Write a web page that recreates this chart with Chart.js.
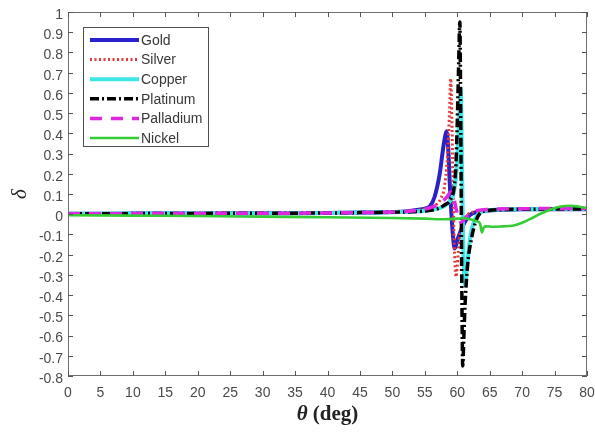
<!DOCTYPE html>
<html>
<head>
<meta charset="utf-8">
<script src="https://cdn.jsdelivr.net/npm/chart.js@4.4.1/dist/chart.umd.min.js"></script>
<style>
  html, body { margin: 0; padding: 0; background: #ffffff; }
  #wrap { width: 595px; height: 432px; }
</style>
</head>
<body>
<div id="wrap"><canvas id="c" width="595" height="432"></canvas></div>
<script>
// Phase-derivative curves (delta) versus incidence angle theta, one pair of arrays per metal.
const seriesNames = ['Gold', 'Silver', 'Copper', 'Platinum', 'Palladium', 'Nickel'];

const goldTheta = [0, 10, 20, 30, 40, 45, 50, 52, 54, 55, 55.8, 56.5, 57.3, 57.8, 58.1, 58.35, 58.6, 58.85, 59.1, 59.35, 59.6, 60.1, 60.9, 61.9, 63.5, 66, 70, 75, 80];
const goldDelta = [0.002, 0.003, 0.004, 0.005, 0.006, 0.008, 0.011, 0.014, 0.022, 0.028, 0.04, 0.085, 0.2, 0.32, 0.38, 0.41, 0.33, 0.15, 0.0, -0.11, -0.17, -0.12, -0.055, -0.005, 0.013, 0.021, 0.024, 0.025, 0.025];

const silverTheta = [0, 10, 20, 30, 40, 45, 50, 52, 54, 56, 57, 57.5, 58, 58.5, 58.8, 59.0, 59.2, 59.4, 59.6, 59.8, 60.0, 60.3, 60.8, 61.5, 63, 66, 70, 75, 80];
const silverDelta = [0.002, 0.003, 0.004, 0.005, 0.006, 0.008, 0.011, 0.014, 0.02, 0.035, 0.055, 0.08, 0.13, 0.29, 0.5, 0.67, 0.42, 0.05, -0.2, -0.31, -0.26, -0.13, -0.045, -0.005, 0.014, 0.021, 0.024, 0.025, 0.025];

const copperTheta = [0, 10, 20, 30, 40, 45, 50, 53, 55, 57, 58, 59, 59.5, 59.9, 60.2, 60.4, 60.55, 60.75, 60.95, 61.2, 61.5, 62, 62.6, 63.5, 65, 70, 75, 80];
const copperDelta = [0.002, 0.003, 0.004, 0.005, 0.006, 0.008, 0.01, 0.013, 0.017, 0.028, 0.04, 0.07, 0.11, 0.22, 0.4, 0.55, 0.62, 0.2, -0.2, -0.35, -0.26, -0.11, -0.035, 0.008, 0.02, 0.025, 0.026, 0.026];

const platinumTheta = [0, 10, 20, 30, 40, 45, 50, 53, 55, 57, 58, 59, 59.5, 59.8, 60.0, 60.2, 60.4, 60.55, 60.7, 60.85, 61.0, 61.2, 61.6, 62.2, 62.8, 63.5, 64.5, 67, 72, 80];
const platinumDelta = [0.002, 0.003, 0.004, 0.005, 0.006, 0.008, 0.01, 0.012, 0.016, 0.028, 0.045, 0.075, 0.13, 0.25, 0.45, 0.72, 0.95, 0.4, -0.35, -0.75, -0.62, -0.45, -0.25, -0.12, -0.04, 0.005, 0.017, 0.023, 0.025, 0.026];

const palladiumTheta = [0, 10, 20, 30, 40, 45, 50, 52, 54, 56, 57.5, 58.5, 59.0, 59.4, 59.8, 60.2, 60.6, 61.2, 62, 63, 65, 70, 75, 80];
const palladiumDelta = [0.002, 0.003, 0.004, 0.005, 0.006, 0.008, 0.011, 0.014, 0.02, 0.034, 0.058, 0.088, 0.11, 0.09, 0.03, -0.02, -0.04, -0.02, 0.005, 0.018, 0.024, 0.027, 0.028, 0.028];

const nickelTheta = [0, 10, 20, 30, 40, 50, 55, 58, 60, 61, 62, 63, 63.5, 63.8, 64.1, 64.5, 65.5, 67, 68.5, 70, 71.5, 73, 74.5, 76, 77.5, 79, 80];
const nickelDelta = [-0.005, -0.007, -0.009, -0.012, -0.015, -0.019, -0.022, -0.025, -0.022, -0.02, -0.025, -0.035, -0.045, -0.09, -0.065, -0.06, -0.062, -0.06, -0.057, -0.042, -0.02, 0.005, 0.025, 0.038, 0.042, 0.036, 0.03];

const xTickValues = [0, 5, 10, 15, 20, 25, 30, 35, 40, 45, 50, 55, 60, 65, 70, 75, 80];
const yTickValues = [1, 0.9, 0.8, 0.7, 0.6, 0.5, 0.4, 0.3, 0.2, 0.1, 0, -0.1, -0.2, -0.3, -0.4, -0.5, -0.6, -0.7, -0.8];

const toPoints = (xs, ys) => xs.map((v, i) => ({ x: v, y: ys[i] }));

// Line styles for each metal
const styles = [
  { color: '#2a22c8', width: 4,   dash: [] },
  { color: '#e03a3a', width: 3,   dash: [2, 2.5] },
  { color: '#3ee6e6', width: 4,   dash: [] },
  { color: '#000000', width: 3.5, dash: [9, 3, 2, 3] },
  { color: '#e026e0', width: 3.5, dash: [12, 9] },
  { color: '#35cc35', width: 2.6, dash: [] }
];

const seriesPoints = [
  toPoints(goldTheta, goldDelta),
  toPoints(silverTheta, silverDelta),
  toPoints(copperTheta, copperDelta),
  toPoints(platinumTheta, platinumDelta),
  toPoints(palladiumTheta, palladiumDelta),
  toPoints(nickelTheta, nickelDelta)
];

const datasets = seriesNames.map((name, i) => ({
  label: name,
  data: seriesPoints[i],
  borderColor: styles[i].color,
  backgroundColor: styles[i].color,
  borderWidth: styles[i].width,
  borderDash: styles[i].dash,
  pointRadius: 0,
  fill: false,
  cubicInterpolationMode: 'monotone',
  // later series are painted on top
  order: seriesNames.length - i
}));

const fmtY = v => {
  const r = Math.round(v * 10) / 10;
  return r === 0 ? '0' : String(r);
};

// Box frame, inward ticks, boxed legend and axis titles
const framePlugin = {
  id: 'frame',
  afterDatasetsDraw(chart) {
    const { ctx, chartArea: a, scales } = chart;
    const xs = scales.x, ys = scales.y;
    ctx.save();

    // frame
    ctx.strokeStyle = '#6e6e6e';
    ctx.lineWidth = 1;
    ctx.setLineDash([]);
    ctx.strokeRect(a.left + 0.5, a.top + 0.5, a.right - a.left - 1, a.bottom - a.top - 1);

    // inward tick marks on all four sides
    const tl = 5;
    ctx.strokeStyle = '#555555';
    ctx.beginPath();
    xTickValues.forEach(v => {
      const px = Math.round(xs.getPixelForValue(v)) + 0.5;
      ctx.moveTo(px, a.bottom); ctx.lineTo(px, a.bottom - tl);
      ctx.moveTo(px, a.top); ctx.lineTo(px, a.top + tl);
    });
    yTickValues.forEach(v => {
      const py = Math.round(ys.getPixelForValue(v)) + 0.5;
      ctx.moveTo(a.left, py); ctx.lineTo(a.left + tl, py);
      ctx.moveTo(a.right, py); ctx.lineTo(a.right - tl, py);
    });
    ctx.stroke();

    // legend
    const lx = a.left + 15, ly = a.top + 15, lw = 125, lh = 119;
    ctx.fillStyle = '#ffffff';
    ctx.fillRect(lx, ly, lw, lh);
    ctx.strokeStyle = '#505050';
    ctx.lineWidth = 1;
    ctx.strokeRect(lx + 0.5, ly + 0.5, lw, lh);
    ctx.font = '14px "Liberation Sans", Arial, sans-serif';
    ctx.textBaseline = 'middle';
    ctx.textAlign = 'left';
    chart.data.datasets.forEach((ds, i) => {
      const yy = ly + 13 + i * 19.6;
      ctx.strokeStyle = ds.borderColor;
      ctx.lineWidth = ds.borderWidth;
      ctx.setLineDash(ds.borderDash);
      ctx.beginPath();
      ctx.moveTo(lx + 7, yy);
      ctx.lineTo(lx + 56, yy);
      ctx.stroke();
      ctx.setLineDash([]);
      ctx.fillStyle = '#383838';
      ctx.fillText(ds.label, lx + 58, yy + 1);
    });

    // x-axis title: italic theta followed by bold "(deg)"
    const cx = (a.left + a.right) / 2;
    const ty = 415;
    const fTheta = 'italic bold 21px "Liberation Serif", serif';
    const fRest = 'bold 21px "Liberation Serif", serif';
    ctx.font = fTheta;
    const w1 = ctx.measureText('θ').width;
    ctx.font = fRest;
    const w2 = ctx.measureText(' (deg)').width;
    const sx = cx - (w1 + w2) / 2;
    ctx.fillStyle = '#222222';
    ctx.textBaseline = 'middle';
    ctx.font = fTheta;
    ctx.fillText('θ', sx, ty);
    ctx.font = fRest;
    ctx.fillText(' (deg)', sx + w1, ty);

    // y-axis title
    ctx.save();
    ctx.translate(20, (a.top + a.bottom) / 2);
    ctx.rotate(-Math.PI / 2);
    ctx.textAlign = 'center';
    ctx.font = 'italic 21px "Liberation Serif", serif';
    ctx.fillText('δ', 0, 0);
    ctx.restore();

    ctx.restore();
  }
};

new Chart(document.getElementById('c'), {
  type: 'line',
  data: { datasets },
  options: {
    responsive: false,
    animation: false,
    devicePixelRatio: 1,
    layout: { padding: { top: 12, right: 8, left: 0, bottom: 0 } },
    plugins: { legend: { display: false }, tooltip: { enabled: false } },
    scales: {
      x: {
        type: 'linear',
        min: 0, max: 80,
        afterBuildTicks: s => { s.ticks = xTickValues.map(v => ({ value: v })); },
        afterFit: s => { s.height = 56; s.paddingLeft = 0; s.paddingRight = 0; },
        grid: { display: false, drawTicks: false },
        border: { display: false },
        ticks: {
          autoSkip: false, maxRotation: 0, padding: 9,
          color: '#4a4a4a',
          font: { family: '"Liberation Sans", Arial, sans-serif', size: 14 }
        }
      },
      y: {
        type: 'linear',
        min: -0.8, max: 1,
        afterBuildTicks: s => { s.ticks = yTickValues.map(v => ({ value: v })); },
        afterFit: s => { s.width = 68; s.paddingTop = 0; s.paddingBottom = 0; },
        grid: { display: false, drawTicks: false },
        border: { display: false },
        ticks: {
          autoSkip: false, padding: 5, labelOffset: 3,
          color: '#4a4a4a',
          callback: v => fmtY(v),
          font: { family: '"Liberation Sans", Arial, sans-serif', size: 14 }
        }
      }
    }
  },
  plugins: [framePlugin]
});
</script>
</body>
</html>
